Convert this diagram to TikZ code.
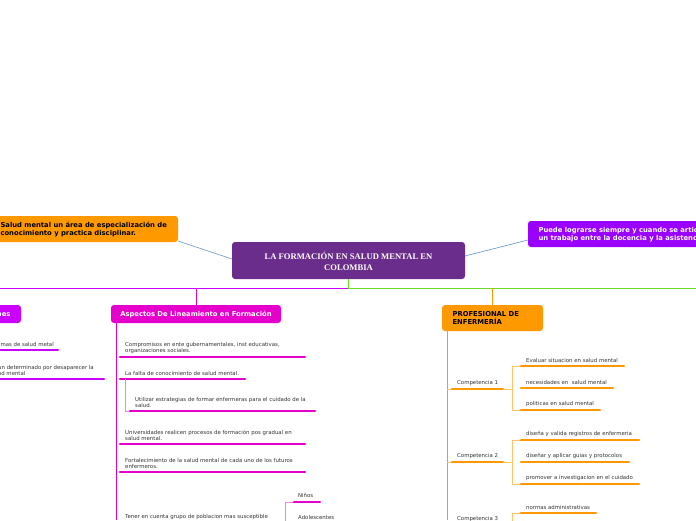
\documentclass[tikz,border=0pt]{standalone}
\usepackage{fontspec}
\setmainfont{DejaVu Sans}
\newfontfamily\serifb{Liberation Serif}
\definecolor{cpurple}{HTML}{6B2D8B}
\definecolor{corange}{HTML}{FF9900}
\definecolor{cviolet}{HTML}{9900FF}
\definecolor{cmag}{HTML}{E600CC}
\definecolor{clmag}{HTML}{CC00FF}
\definecolor{cgreen}{HTML}{66DD22}
\definecolor{cblue}{HTML}{5B8FC8}
\definecolor{ctext}{HTML}{333333}
\begin{document}
\begin{tikzpicture}[x=1pt,y=-1pt,
  box/.style={rounded corners=3pt,inner sep=0pt},
  item/.style={anchor=south west,font=\fontsize{5.4}{6.6}\selectfont,text=ctext,align=left,inner sep=0pt},
  blab/.style={font=\bfseries\fontsize{6.8}{8.2}\selectfont},
  ulm/.style={line width=2.2pt,cmag,line cap=round},
  ulo/.style={line width=2.2pt,corange,line cap=round},
  ulv/.style={line width=2.2pt,clmag,line cap=round},
  thin/.style={line width=0.6pt}]
\useasboundingbox (0,0) rectangle (696,520);
\clip (0,0) rectangle (696,520);
% central
\fill[cpurple,box] (232,242) rectangle (465,279);
\node[font=\serifb\bfseries\fontsize{8.6}{11}\selectfont,text=white,align=center] (c) at (348.5,261) {LA FORMACIÓN EN SALUD MENTAL EN\\COLOMBIA};
% left orange
\fill[corange,box] (-60,216) rectangle (178,242);
\node[anchor=west,blab,align=left] (lo) at (-3,229.5) {Salud mental un área de especialización de\\conocimiento y practica disciplinar.};
\draw[cblue,thin] (232,259) -- (178,241);
% right violet
\fill[cviolet,box] (528,221) rectangle (780,247);
\node[anchor=west,blab,text=white,align=left] (rv) at (535,234.5) {Puede lograrse siempre y cuando se articule\\un trabajo entre la docencia y la asistencia};
\draw[cblue,thin] (465,256) -- (528,240);
% horizontal lines
\draw[clmag,line width=0.9pt] (0,288) -- (348,288);
\draw[cgreen,line width=0.9pt] (348,288) -- (696,288);
\draw[cgreen,line width=0.9pt] (348,279) -- (348,288);
% left box
\fill[clmag,box] (-60,305) rectangle (21,323);
\node[anchor=east,blab,text=white] (lb) at (14,314) {Relaciones};
\node[item,anchor=south east] (l1) at (54,347) {Problemas de salud metal};
\draw[ulv] (-40,350) -- (58,350);
\node[item,anchor=south east] (l2) at (94,376) {Es un determinado por desaparecer la\\salud mental};
\draw[ulv] (-40,379) -- (104,379);
% middle box
\draw[cmag,thin] (196,288) -- (196,305);
\fill[cmag,box] (111,305) rectangle (281,323);
\node[blab,text=white] (mb) at (196,314) {Aspectos De Lineamiento en Formación};
\draw[cmag,line width=1pt] (116,323) -- (116,520);
\node[item] (m1) at (125,354) {Compromisos en ente gubernamentales, inst educativas,\\organizaciones sociales.};
\draw[ulm] (120,357) -- (305,357);
\node[item] (m2) at (125,376) {La falta de conocimiento de salud mental.};
\draw[ulm] (120,379) -- (245,379);
\draw[cmag!50,thin] (125,379) -- (125,411) -- (130,411);
\node[item] (m3) at (135,408) {Utilizar estrategias de formar enfermeras para el cuidado de la\\salud.};
\draw[ulm] (130,411) -- (315,411);
\node[item] (m4) at (125,441) {Universidades realicen procesos de formación pos gradual en\\salud mental.};
\draw[ulm] (120,444) -- (305,444);
\node[item] (m5) at (125,469) {Fortalecimiento de la salud mental de cada uno de los futuros\\enfermeros.};
\draw[ulm] (120,472) -- (305,472);
\node[item] (m6) at (125,520) {Tener en cuenta grupo de poblacion mas susceptible};
\draw[cmag!50,thin] (285,525) -- (285,502) -- (294,502);
\node[item] (n1) at (298,498) {Niños};
\draw[ulm] (294,502) -- (320,502);
\node[item] (n2) at (298,520) {Adolescentes};
% right box
\draw[corange,thin] (492,288) -- (492,305);
\fill[corange,box] (442,305) rectangle (543,331);
\node[anchor=west,blab,align=left] (pb) at (449,318) {PROFESIONAL DE\\ENFERMERÍA};
\draw[corange,line width=0.9pt] (447,331) -- (447,520);
% competencia 1
\draw[corange!60,thin] (447,389) -- (452,389);
\node[item] (k1) at (457,386) {Competencia 1};
\draw[ulo] (452,389) -- (503,389);
\draw[corange!60,thin] (503,389) -- (512,389);
\draw[corange!60,thin] (521,366) -- (512,366) -- (512,410) -- (521,410);
\node[item] (a1) at (526,363) {Evaluar situacion en salud mental};
\draw[ulo] (521,366) -- (624,366);
\node[item] (a2) at (526,385) {necesidades en\ \ salud mental};
\draw[ulo] (521,388) -- (613,388);
\node[item] (a3) at (526,407) {politicas en salud mental};
\draw[ulo] (521,410) -- (600,410);
% competencia 2
\draw[corange!60,thin] (447,462) -- (452,462);
\node[item] (k2) at (457,459) {Competencia 2};
\draw[ulo] (452,462) -- (503,462);
\draw[corange!60,thin] (503,462) -- (512,462);
\draw[corange!60,thin] (521,440) -- (512,440) -- (512,484) -- (521,484);
\node[item] (b1) at (526,437) {diseña y valida registros de enfermeria};
\draw[ulo] (521,440) -- (639,440);
\node[item] (b2) at (526,459) {diseñar y aplicar guias y protocolos};
\draw[ulo] (521,462) -- (629,462);
\node[item] (b3) at (526,481) {promover a investigacion en el cuidado};
\draw[ulo] (521,484) -- (639,484);
% competencia 3
\node[item] (k3) at (457,522) {Competencia 3};
\draw[corange!60,thin] (521,513) -- (512,513) -- (512,525);
\node[item] (c1) at (526,510) {normas administrativas};
\draw[ulo] (521,513) -- (596,513);
\end{tikzpicture}
\end{document}
